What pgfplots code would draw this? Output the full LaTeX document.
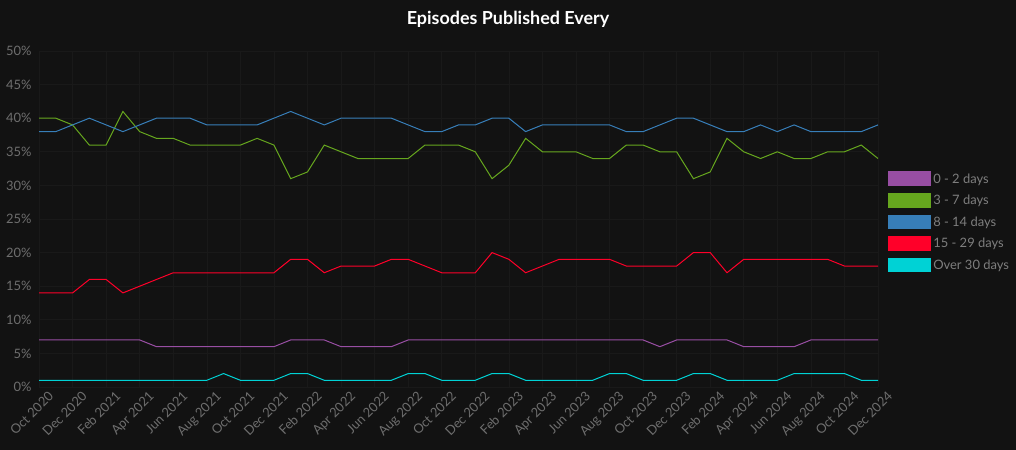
\documentclass[border=0pt]{standalone}
\usepackage{pgfplots}
\pgfplotsset{compat=1.18}
\usepackage{fontspec}
\setmainfont{Lato}
\definecolor{bg}{HTML}{121212}
\definecolor{gridc}{HTML}{191919}
\definecolor{tickc}{HTML}{6E6E6E}
\definecolor{legc}{HTML}{7E7E7E}
\definecolor{cpurple}{HTML}{984EA3}
\definecolor{cgreen}{HTML}{66A61E}
\definecolor{cblue}{HTML}{377EB8}
\definecolor{cred}{HTML}{FF0029}
\definecolor{ccyan}{HTML}{00D2D5}

\pgfplotstableread{
m purple green blue red cyan
0 7 40 38 14 1
1 7 40 38 14 1
2 7 39 39 14 1
3 7 36 40 16 1
4 7 36 39 16 1
5 7 41 38 14 1
6 7 38 39 15 1
7 6 37 40 16 1
8 6 37 40 17 1
9 6 36 40 17 1
10 6 36 39 17 1
11 6 36 39 17 2
12 6 36 39 17 1
13 6 37 39 17 1
14 6 36 40 17 1
15 7 31 41 19 2
16 7 32 40 19 2
17 7 36 39 17 1
18 6 35 40 18 1
19 6 34 40 18 1
20 6 34 40 18 1
21 6 34 40 19 1
22 7 34 39 19 2
23 7 36 38 18 2
24 7 36 38 17 1
25 7 36 39 17 1
26 7 35 39 17 1
27 7 31 40 20 2
28 7 33 40 19 2
29 7 37 38 17 1
30 7 35 39 18 1
31 7 35 39 19 1
32 7 35 39 19 1
33 7 34 39 19 1
34 7 34 39 19 2
35 7 36 38 18 2
36 7 36 38 18 1
37 6 35 39 18 1
38 7 35 40 18 1
39 7 31 40 20 2
40 7 32 39 20 2
41 7 37 38 17 1
42 6 35 38 19 1
43 6 34 39 19 1
44 6 35 38 19 1
45 6 34 39 19 2
46 7 34 38 19 2
47 7 35 38 19 2
48 7 35 38 18 2
49 7 36 38 18 1
50 7 34 39 18 1
}\datatable

\begin{document}
\begin{tikzpicture}[x=1bp,y=1bp]
\useasboundingbox (0,0) rectangle (1016,450);
\fill[bg] (0,0) rectangle (1016,450);
\begin{axis}[
  at={(39bp,63bp)}, anchor=south west,
  scale only axis, width=839bp, height=336bp,
  xmin=0, xmax=50, ymin=0, ymax=50,
  xtick={0,2,...,50},
  xticklabels={Oct 2020,Dec 2020,Feb 2021,Apr 2021,Jun 2021,Aug 2021,Oct 2021,Dec 2021,Feb 2022,Apr 2022,Jun 2022,Aug 2022,Oct 2022,Dec 2022,Feb 2023,Apr 2023,Jun 2023,Aug 2023,Oct 2023,Dec 2023,Feb 2024,Apr 2024,Jun 2024,Aug 2024,Oct 2024,Dec 2024},
  ytick={0,5,...,50},
  yticklabel={\pgfmathprintnumber{\tick}\%},
  /pgf/number format/assume math mode=true,
  major tick length=0pt,
  axis line style={draw=none},
  grid=major,
  major grid style={gridc, line width=0.6bp},
  tick label style={text=tickc, font=\fontsize{13}{15}\selectfont},
  xticklabel style={rotate=45, anchor=north east, xshift=7bp, yshift=-5bp},
  yticklabel style={xshift=-4bp},
  legend style={draw=none, fill=none, at={(1.012,0.642)}, anchor=north west,
    font=\fontsize{13}{15}\selectfont, text=legc, row sep=6.5bp, inner sep=0pt,
    nodes={inner sep=2bp}},
  legend cell align=left,
  legend image code/.code={\fill[#1] (0bp,-6.5bp) rectangle (42bp,7bp);},
  every axis plot/.append style={line width=1bp, mark=none},
]
\addplot[color=cpurple] table[x=m,y=purple]{\datatable};
\addplot[color=cgreen] table[x=m,y=green]{\datatable};
\addplot[color=cblue] table[x=m,y=blue]{\datatable};
\addplot[color=cred] table[x=m,y=red]{\datatable};
\addplot[color=ccyan] table[x=m,y=cyan]{\datatable};
\legend{0 - 2 days,3 - 7 days,8 - 14 days,15 - 29 days,Over 30 days}
\end{axis}
\node[text=white, font=\fontsize{18}{21}\selectfont\bfseries] at (508,431) {Episodes Published Every};
\end{tikzpicture}
\end{document}
